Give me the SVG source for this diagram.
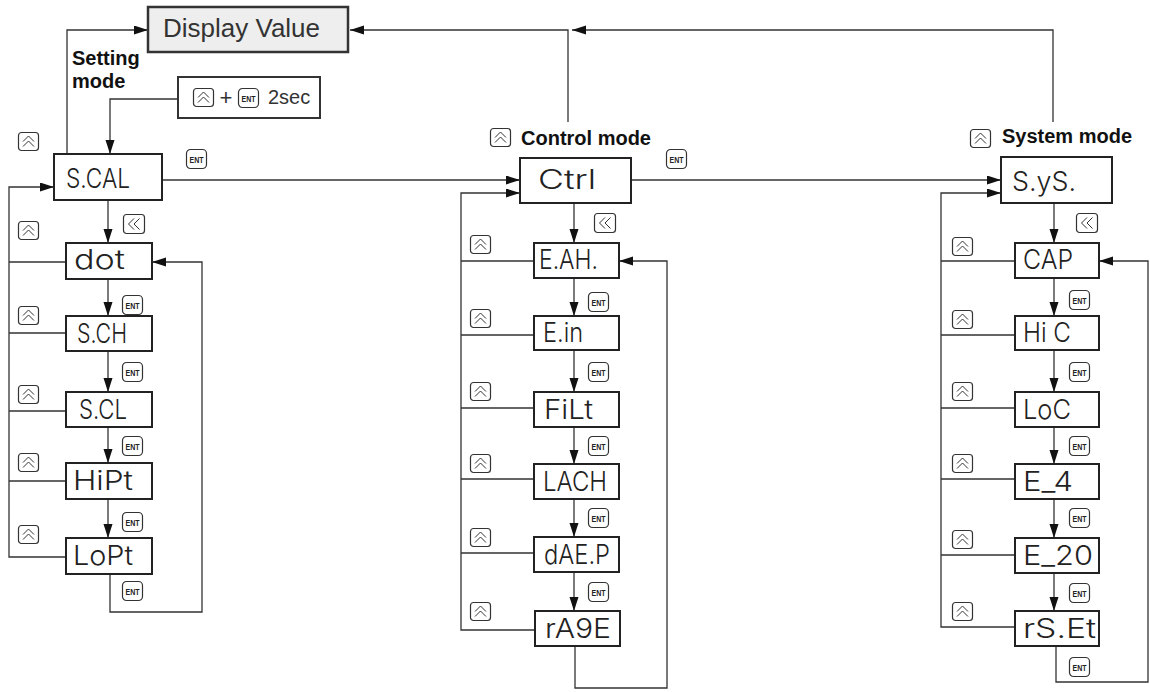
<svg xmlns="http://www.w3.org/2000/svg" width="1150" height="692" viewBox="0 0 1150 692">
<style>
.ln{fill:none;stroke:#333;stroke-width:1.3}
.box{fill:#fff;stroke:#222;stroke-width:2}
.seg{font-family:Inter,"DejaVu Sans",sans-serif;font-weight:300;font-size:27px;fill:#222}
.ico{fill:#fff;stroke:#333;stroke-width:1.2}
.chev{fill:none;stroke:#333;stroke-width:1}
.ent{font-family:"Liberation Sans",Arial,sans-serif;font-size:9.5px;font-weight:bold;fill:#222;text-anchor:middle}
.mode{font-family:"Liberation Sans",Arial,sans-serif;font-size:20px;font-weight:bold;fill:#111}
</style>
<defs>
<marker id="ar" markerUnits="userSpaceOnUse" markerWidth="15" markerHeight="10" refX="14" refY="4.5" orient="auto">
<path d="M0,0 L14,4.5 L0,9 z" fill="#111"/>
</marker>
<g id="up"><rect class="ico" x="0.5" y="0.5" width="20" height="18" rx="3"/><polyline class="chev" points="5,9.5 10.5,4 16,9.5"/><polyline class="chev" points="5,14.5 10.5,9 16,14.5"/></g>
<g id="en"><rect class="ico" x="0.5" y="0.5" width="20" height="19" rx="4"/></g>
<g id="lf"><rect class="ico" x="0.5" y="0.5" width="21" height="19" rx="3"/><polyline class="chev" points="11,4.5 5.5,10 11,15.5"/><polyline class="chev" points="16.5,4.5 11,10 16.5,15.5"/></g>
</defs>

<g id="connectors">
<path class="ln" d="M67,154 V30 H148" marker-end="url(#ar)"/>
<path class="ln" d="M1053,122 V30 H572" marker-end="url(#ar)"/>
<path class="ln" d="M568,122 V30 H350" marker-end="url(#ar)"/>
<path class="ln" d="M178,99 H110 V154" marker-end="url(#ar)"/>
<path class="ln" d="M162,180 H520" marker-end="url(#ar)"/>
<path class="ln" d="M631,180 H1001" marker-end="url(#ar)"/>
<path class="ln" d="M108,200 V243" marker-end="url(#ar)"/>
<path class="ln" d="M108,279 V316" marker-end="url(#ar)"/>
<path class="ln" d="M108,351 V392" marker-end="url(#ar)"/>
<path class="ln" d="M108,427 V463" marker-end="url(#ar)"/>
<path class="ln" d="M108,499 V538" marker-end="url(#ar)"/>
<path class="ln" d="M66,262 H9 M66,333 H9 M66,411 H9 M66,481 H9"/>
<path class="ln" d="M66,557 H9 V187 H54" marker-end="url(#ar)"/>
<path class="ln" d="M110,574 V612 H202 V262 H152" marker-end="url(#ar)"/>
<path class="ln" d="M574,203 V243" marker-end="url(#ar)"/>
<path class="ln" d="M574,278 V316" marker-end="url(#ar)"/>
<path class="ln" d="M574,350 V392" marker-end="url(#ar)"/>
<path class="ln" d="M574,427 V464" marker-end="url(#ar)"/>
<path class="ln" d="M574,499 V537" marker-end="url(#ar)"/>
<path class="ln" d="M574,572 V611" marker-end="url(#ar)"/>
<path class="ln" d="M534,261 H461 M534,335 H461 M534,408 H461 M534,479 H461 M534,553 H461"/>
<path class="ln" d="M535,630 H461 V193 H520" marker-end="url(#ar)"/>
<path class="ln" d="M575,646 V688 H667 V261 H619" marker-end="url(#ar)"/>
<path class="ln" d="M1054,203 V243" marker-end="url(#ar)"/>
<path class="ln" d="M1054,278 V316" marker-end="url(#ar)"/>
<path class="ln" d="M1054,350 V392" marker-end="url(#ar)"/>
<path class="ln" d="M1054,427 V464" marker-end="url(#ar)"/>
<path class="ln" d="M1054,499 V538" marker-end="url(#ar)"/>
<path class="ln" d="M1054,573 V611" marker-end="url(#ar)"/>
<path class="ln" d="M1015,261 H941 M1015,335 H941 M1015,408 H941 M1015,479 H941 M1015,555 H941"/>
<path class="ln" d="M1015,627 H941 V193 H1001" marker-end="url(#ar)"/>
<path class="ln" d="M1056,646 V682 H1148 V261 H1099" marker-end="url(#ar)"/>
</g>

<g id="display-value">
<rect x="148" y="7" width="200" height="45" fill="#eeeeee" stroke="#333" stroke-width="2.5"/>
<text x="163" y="37" font-family="Liberation Sans,Arial,sans-serif" font-size="26" fill="#333">Display Value</text>
</g>

<g id="setting-label">
<text class="mode" x="72" y="65" font-size="19">Setting</text>
<text class="mode" x="72" y="88" font-size="19">mode</text>
</g>

<g id="key-combo">
<rect x="178" y="77" width="142" height="41" fill="#fff" stroke="#333" stroke-width="2"/>
<use href="#up" x="193" y="88"/>
<text x="226" y="105" font-family="Liberation Sans,Arial,sans-serif" font-size="22" fill="#333" text-anchor="middle">+</text>
<use href="#en" x="238" y="88"/>
<text class="ent" x="248.5" y="101.5" textLength="14" lengthAdjust="spacingAndGlyphs">ENT</text>
<text x="268" y="104" font-family="Liberation Sans,Arial,sans-serif" font-size="20" fill="#333">2sec</text>
</g>

<g id="n-scal"><rect class="box" x="54" y="154" width="108" height="46"/><text class="seg" x="66" y="188" textLength="64" lengthAdjust="spacingAndGlyphs">S.CAL</text></g>
<g id="n-dot"><rect class="box" x="66" y="243" width="86" height="36"/><text class="seg" x="74" y="269" textLength="51" lengthAdjust="spacingAndGlyphs">dot</text></g>
<g id="n-sch"><rect class="box" x="66" y="316" width="86" height="35"/><text class="seg" x="77" y="343" textLength="50" lengthAdjust="spacingAndGlyphs">S.CH</text></g>
<g id="n-scl"><rect class="box" x="66" y="392" width="86" height="35"/><text class="seg" x="79" y="419" textLength="48" lengthAdjust="spacingAndGlyphs">S.CL</text></g>
<g id="n-hipt"><rect class="box" x="66" y="463" width="86" height="36"/><text class="seg" x="73" y="490" textLength="60" lengthAdjust="spacingAndGlyphs">HiPt</text></g>
<g id="n-lopt"><rect class="box" x="66" y="538" width="86" height="36"/><text class="seg" x="73" y="565" textLength="60" lengthAdjust="spacingAndGlyphs">LoPt</text></g>

<g id="control-label"><use href="#up" x="490" y="128"/><text class="mode" x="521" y="145">Control mode</text></g>
<g id="n-ctrl"><rect class="box" x="520" y="158" width="111" height="45"/><text class="seg" x="538" y="189" textLength="58" lengthAdjust="spacingAndGlyphs">Ctrl</text></g>
<g id="n-eah"><rect class="box" x="534" y="243" width="85" height="35"/><text class="seg" x="539" y="269" textLength="59" lengthAdjust="spacingAndGlyphs">E.AH.</text></g>
<g id="n-ein"><rect class="box" x="534" y="316" width="85" height="34"/><text class="seg" x="543" y="342" textLength="40" lengthAdjust="spacingAndGlyphs">E.in</text></g>
<g id="n-filt"><rect class="box" x="534" y="392" width="85" height="35"/><text class="seg" x="544" y="419" textLength="49" lengthAdjust="spacingAndGlyphs">FiLt</text></g>
<g id="n-lach"><rect class="box" x="534" y="464" width="85" height="35"/><text class="seg" x="543" y="491" textLength="64" lengthAdjust="spacingAndGlyphs">LACH</text></g>
<g id="n-daep"><rect class="box" x="534" y="537" width="85" height="35"/><text class="seg" x="544" y="564" textLength="66" lengthAdjust="spacingAndGlyphs">dAE.P</text></g>
<g id="n-rage"><rect class="box" x="535" y="611" width="85" height="35"/><text class="seg" x="545" y="638" textLength="66" lengthAdjust="spacingAndGlyphs">rA9E</text></g>

<g id="system-label"><use href="#up" x="970" y="129"/><text class="mode" x="1002" y="143">System mode</text></g>
<g id="n-sys"><rect class="box" x="1001" y="157" width="111" height="46"/><text class="seg" x="1012" y="191" textLength="64" lengthAdjust="spacingAndGlyphs">S.yS.</text></g>
<g id="n-cap"><rect class="box" x="1015" y="243" width="84" height="35"/><text class="seg" x="1023" y="269" textLength="50" lengthAdjust="spacingAndGlyphs">CAP</text></g>
<g id="n-hic"><rect class="box" x="1015" y="316" width="84" height="34"/><text class="seg" x="1023" y="342" textLength="48" lengthAdjust="spacingAndGlyphs">Hi C</text></g>
<g id="n-loc"><rect class="box" x="1015" y="392" width="84" height="35"/><text class="seg" x="1023" y="419" textLength="48" lengthAdjust="spacingAndGlyphs">LoC</text></g>
<g id="n-e4"><rect class="box" x="1015" y="464" width="84" height="35"/><text class="seg" x="1023" y="491" textLength="50" lengthAdjust="spacingAndGlyphs">E_4</text></g>
<g id="n-e20"><rect class="box" x="1015" y="538" width="84" height="35"/><text class="seg" x="1023" y="565" textLength="70" lengthAdjust="spacingAndGlyphs">E_20</text></g>
<g id="n-rset"><rect class="box" x="1015" y="611" width="84" height="35"/><text class="seg" x="1023" y="638" textLength="73" lengthAdjust="spacingAndGlyphs">rS.Et</text></g>

<g id="key-icons">
<use href="#up" x="18" y="132"/><use href="#up" x="18" y="221"/><use href="#up" x="18" y="306"/><use href="#up" x="18" y="385"/><use href="#up" x="18" y="453"/><use href="#up" x="18" y="525"/>
<use href="#lf" x="123" y="214"/>
<use href="#en" x="186" y="149"/><text class="ent" x="196.5" y="162.5" textLength="14" lengthAdjust="spacingAndGlyphs">ENT</text>
<use href="#en" x="122" y="295"/><text class="ent" x="132.5" y="308.5" textLength="14" lengthAdjust="spacingAndGlyphs">ENT</text>
<use href="#en" x="122" y="362"/><text class="ent" x="132.5" y="375.5" textLength="14" lengthAdjust="spacingAndGlyphs">ENT</text>
<use href="#en" x="122" y="436"/><text class="ent" x="132.5" y="449.5" textLength="14" lengthAdjust="spacingAndGlyphs">ENT</text>
<use href="#en" x="122" y="512"/><text class="ent" x="132.5" y="525.5" textLength="14" lengthAdjust="spacingAndGlyphs">ENT</text>
<use href="#en" x="122" y="581"/><text class="ent" x="132.5" y="594.5" textLength="14" lengthAdjust="spacingAndGlyphs">ENT</text>

<use href="#up" x="470" y="235"/><use href="#up" x="470" y="309"/><use href="#up" x="470" y="382"/><use href="#up" x="470" y="454"/><use href="#up" x="470" y="528"/><use href="#up" x="470" y="602"/>
<use href="#lf" x="594" y="213"/>
<use href="#en" x="666" y="149"/><text class="ent" x="676.5" y="162.5" textLength="14" lengthAdjust="spacingAndGlyphs">ENT</text>
<use href="#en" x="588" y="292"/><text class="ent" x="598.5" y="305.5" textLength="14" lengthAdjust="spacingAndGlyphs">ENT</text>
<use href="#en" x="588" y="362"/><text class="ent" x="598.5" y="375.5" textLength="14" lengthAdjust="spacingAndGlyphs">ENT</text>
<use href="#en" x="588" y="436"/><text class="ent" x="598.5" y="449.5" textLength="14" lengthAdjust="spacingAndGlyphs">ENT</text>
<use href="#en" x="588" y="508"/><text class="ent" x="598.5" y="521.5" textLength="14" lengthAdjust="spacingAndGlyphs">ENT</text>
<use href="#en" x="588" y="582"/><text class="ent" x="598.5" y="595.5" textLength="14" lengthAdjust="spacingAndGlyphs">ENT</text>

<use href="#up" x="952" y="237"/><use href="#up" x="952" y="310"/><use href="#up" x="952" y="382"/><use href="#up" x="952" y="454"/><use href="#up" x="952" y="530"/><use href="#up" x="952" y="602"/>
<use href="#lf" x="1076" y="213"/>
<use href="#en" x="1069" y="290"/><text class="ent" x="1079.5" y="303.5" textLength="14" lengthAdjust="spacingAndGlyphs">ENT</text>
<use href="#en" x="1069" y="362"/><text class="ent" x="1079.5" y="375.5" textLength="14" lengthAdjust="spacingAndGlyphs">ENT</text>
<use href="#en" x="1069" y="436"/><text class="ent" x="1079.5" y="449.5" textLength="14" lengthAdjust="spacingAndGlyphs">ENT</text>
<use href="#en" x="1069" y="508"/><text class="ent" x="1079.5" y="521.5" textLength="14" lengthAdjust="spacingAndGlyphs">ENT</text>
<use href="#en" x="1069" y="583"/><text class="ent" x="1079.5" y="596.5" textLength="14" lengthAdjust="spacingAndGlyphs">ENT</text>
<use href="#en" x="1069" y="657"/><text class="ent" x="1079.5" y="670.5" textLength="14" lengthAdjust="spacingAndGlyphs">ENT</text>
</g>
</svg>
